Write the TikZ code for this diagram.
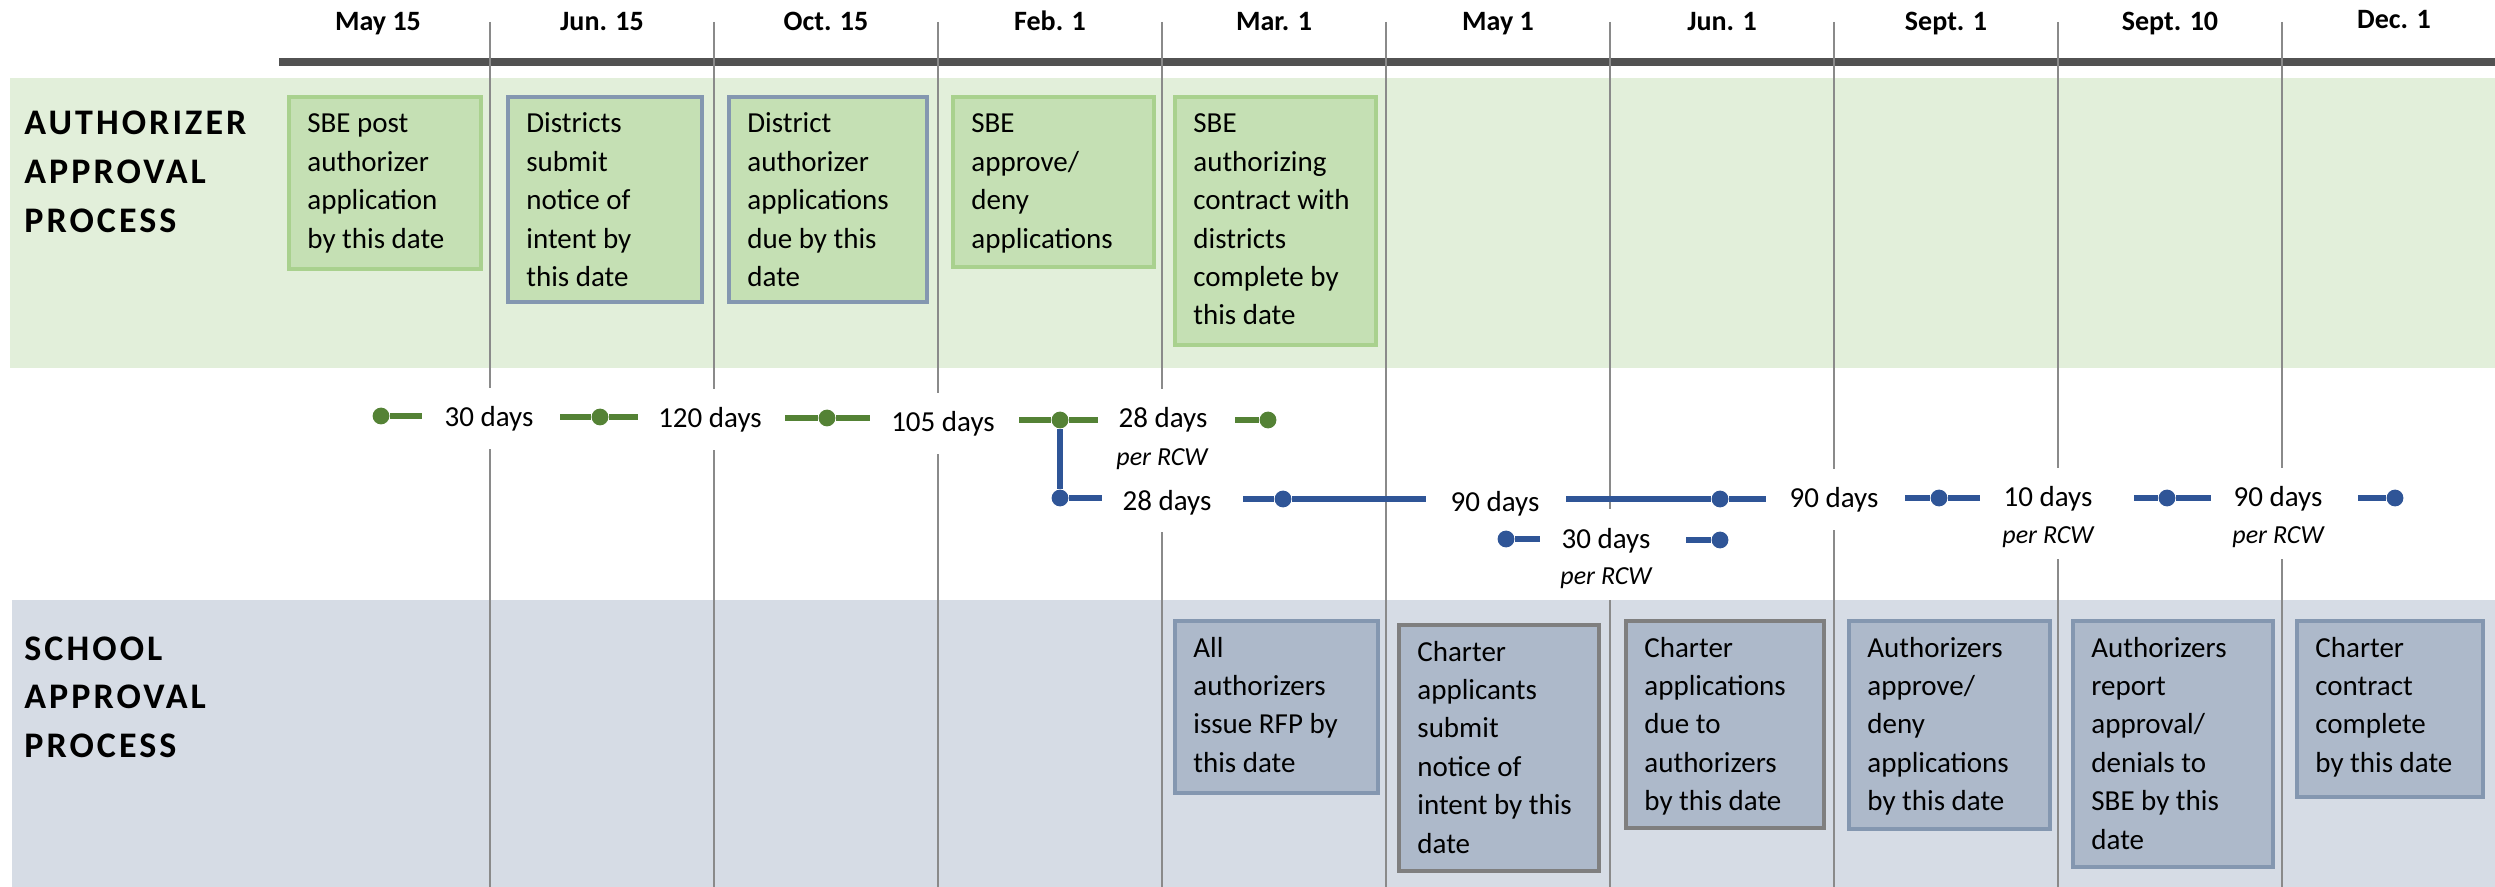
\documentclass[tikz,border=0pt]{standalone}
\usepackage{fontspec}
\setmainfont{Carlito}
\newfontfamily\lanefont[LetterSpace=8.5]{Carlito}

\definecolor{authband}{HTML}{E2EFDA}
\definecolor{authfill}{HTML}{C5E0B4}
\definecolor{authedge}{HTML}{A9D18E}
\definecolor{slateedge}{HTML}{8497B0}
\definecolor{schoolband}{HTML}{D6DCE5}
\definecolor{schoolfill}{HTML}{ADB9CA}
\definecolor{grayedge}{HTML}{7F7F7F}
\definecolor{barcolor}{HTML}{525252}
\definecolor{gridgray}{HTML}{8A8A8A}
\definecolor{dgreen}{HTML}{548235}
\definecolor{dblue}{HTML}{2F5597}

% struts that set how far the white label backgrounds reach
\newcommand\durstrut{\rule[-11pt]{0pt}{30.5pt}}   % lone interval label
\newcommand\durstrutup{\rule[-6pt]{0pt}{25.5pt}}  % interval label with a note below
\newcommand\rcwstrut{\rule[-8pt]{0pt}{21pt}}

% a milestone box: name, x0, y0, x1, y1 (outer edges, px), style, text
\newcommand\stagenode[7]{%
  \node[#6, minimum width={(#4-#2-4)*0.5pt}, minimum height={(#5-#3-4)*0.5pt}] (#1) at (#2+2,#3+2) {};
  \node[stagetext] (#1-text) at (#2+22,#3+40) {\parbox[t]{150pt}{\raggedright #7}};
}

\tikzset{
  gridline/.style={draw=gridgray, line width=0.65pt},
  datelbl/.style={anchor=base, inner sep=0, font=\bfseries\fontsize{14pt}{16pt}\selectfont},
  lanelbl/.style={anchor=base west, inner sep=0, font=\lanefont\bfseries\fontsize{18pt}{24.4pt}\selectfont},
  stagebox/.style={anchor=north west, inner sep=0, line width=2pt},
  authbox/.style={stagebox, fill=authfill, draw=authedge},
  authslate/.style={stagebox, fill=authfill, draw=slateedge},
  schoolbox/.style={stagebox, fill=schoolfill, draw=slateedge},
  schoolgray/.style={stagebox, fill=schoolfill, draw=grayedge},
  stagetext/.style={anchor=base west, inner sep=0, font=\fontsize{14.5pt}{19.2pt}\selectfont},
  dur/.style={anchor=base, fill=white, inner xsep=3pt, inner ysep=0, font=\fontsize{14.5pt}{17pt}\selectfont},
  rcw/.style={anchor=base, fill=white, inner xsep=3pt, inner ysep=0, font=\itshape\fontsize{13pt}{15pt}\selectfont},
  gline/.style={draw=dgreen, line width=2.65pt},
  bline/.style={draw=dblue, line width=2.65pt},
  gdot/.style={circle, fill=dgreen, inner sep=0, minimum size=8.4pt},
  bdot/.style={circle, fill=dblue, inner sep=0, minimum size=8.4pt},
}

\begin{document}
\begin{tikzpicture}[x=0.5pt, y=-0.5pt]
\useasboundingbox (0,0) rectangle (2495,887);

% lane backgrounds
\fill[authband] (10,78) rectangle (2495,368);
\fill[schoolband] (12,600) rectangle (2495,887);

% timeline bar
\fill[barcolor] (279,58) rectangle (2495,66);

% column separators
\foreach \k in {0,...,8}
  \draw[gridline] (490+224*\k,22) -- (490+224*\k,887);

% dates
\foreach \lbl [count=\k from 0] in {May 15, Jun. 15, Oct. 15, Feb. 1, Mar. 1, May 1, Jun. 1, Sept. 1, Sept. 10}
  \node[datelbl] (date\k) at (378+224*\k,31) {\lbl};
\node[datelbl] (date9) at (2394,29) {Dec. 1};

% lane titles
\node[lanelbl] (authlane) at (24,135) {\parbox[t]{150pt}{AUTHORIZER\\APPROVAL\\PROCESS}};
\node[lanelbl] (schoollane) at (24,660) {\parbox[t]{150pt}{SCHOOL\\APPROVAL\\PROCESS}};

% authorizer milestones
\stagenode{a1}{285}{93}{481}{269}{authbox}{SBE post\\authorizer\\application\\by this date}
\stagenode{a2}{504}{93}{702}{302}{authslate}{Districts\\submit\\notice of\\intent by\\this date}
\stagenode{a3}{725}{93}{927}{302}{authslate}{District\\authorizer\\applications\\due by this\\date}
\stagenode{a4}{949}{93}{1154}{267}{authbox}{SBE\\approve/\\deny\\applications}
\stagenode{a5}{1171}{93}{1376}{345}{authbox}{SBE\\authorizing\\contract with\\districts\\complete by\\this date}

% school milestones
\stagenode{s1}{1171}{617}{1378}{793}{schoolbox}{All\\authorizers\\issue RFP by\\this date}
\stagenode{s2}{1395}{621}{1599}{871}{schoolgray}{Charter\\applicants\\submit\\notice of\\intent by this\\date}
\stagenode{s3}{1622}{617}{1824}{828}{schoolgray}{Charter\\applications\\due to\\authorizers\\by this date}
\stagenode{s4}{1845}{617}{2050}{829}{schoolbox}{Authorizers\\approve/\\deny\\applications\\by this date}
\stagenode{s5}{2069}{617}{2273}{867}{schoolbox}{Authorizers\\report\\approval/\\denials to\\SBE by this\\date}
\stagenode{s6}{2293}{617}{2483}{797}{schoolbox}{Charter\\contract\\complete\\by this date}

% notes under interval labels
\node[rcw] (r28g) at (1162,466) {\rcwstrut per RCW};
\node[rcw] (r10) at (2048,543) {\rcwstrut per RCW};
\node[rcw] (r90c) at (2278,543) {\rcwstrut per RCW};
\node[rcw] (r30b) at (1606,584) {\rcwstrut per RCW};

% interval labels
\node[dur] (t30) at (489,427) {\durstrut 30 days};
\node[dur] (t120) at (710,428) {\durstrut 120 days};
\node[dur] (t105) at (943,432) {\durstrut 105 days};
\node[dur] (t28g) at (1163,428) {\durstrutup 28 days};
\node[dur] (t28b) at (1167,510) {\durstrut 28 days};
\node[dur] (t90a) at (1495,511) {\durstrut 90 days};
\node[dur] (t90b) at (1834,508) {\durstrut 90 days};
\node[dur] (t10) at (2048,507) {\durstrutup 10 days};
\node[dur] (t90c) at (2278,507) {\durstrutup 90 days};
\node[dur] (t30b) at (1606,548) {\durstrutup 30 days};

% authorizer track
\node[gdot] (g1) at (381,416) {};
\node[gdot] (g2) at (600,417) {};
\node[gdot] (g3) at (827,418) {};
\node[gdot] (g4) at (1060,420) {};
\node[gdot] (g5) at (1268,420) {};
\coordinate (g1r) at (422,416);
\coordinate (g2l) at (560,417);
\coordinate (g2r) at (638,417);
\coordinate (g3l) at (785,418);
\coordinate (g3r) at (870,418);
\coordinate (g4l) at (1019,420);
\coordinate (g4r) at (1098,420);
\coordinate (g5l) at (1235,420);
\draw[gline] (g1) -- (g1r);
\draw[gline] (g2l) -- (g2) -- (g2r);
\draw[gline] (g3l) -- (g3) -- (g3r);
\draw[gline] (g4l) -- (g4) -- (g4r);
\draw[gline] (g5l) -- (g5);

% school track
\node[bdot] (b1) at (1060,498) {};
\node[bdot] (b2) at (1283,499) {};
\node[bdot] (b3) at (1720,499) {};
\node[bdot] (b4) at (1939,498) {};
\node[bdot] (b5) at (2167,498) {};
\node[bdot] (b6) at (2395,498) {};
\node[bdot] (c1) at (1506,539) {};
\node[bdot] (c2) at (1720,540) {};
\coordinate (b1r) at (1102,498);
\coordinate (b2l) at (1243,499);
\coordinate (b2r) at (1426,499);
\coordinate (b3l) at (1566,499);
\coordinate (b3r) at (1766,499);
\coordinate (b4l) at (1905,498);
\coordinate (b4r) at (1980,498);
\coordinate (b5l) at (2134,498);
\coordinate (b5r) at (2211,498);
\coordinate (b6l) at (2358,498);
\coordinate (c1r) at (1540,539);
\coordinate (c2l) at (1686,540);
\draw[bline] (g4) -- (b1);
\draw[bline] (b1) -- (b1r);
\draw[bline] (b2l) -- (b2) -- (b2r);
\draw[bline] (b3l) -- (b3) -- (b3r);
\draw[bline] (b4l) -- (b4) -- (b4r);
\draw[bline] (b5l) -- (b5) -- (b5r);
\draw[bline] (b6l) -- (b6);
\draw[bline] (c1) -- (c1r);
\draw[bline] (c2l) -- (c2);
\end{tikzpicture}
\end{document}
